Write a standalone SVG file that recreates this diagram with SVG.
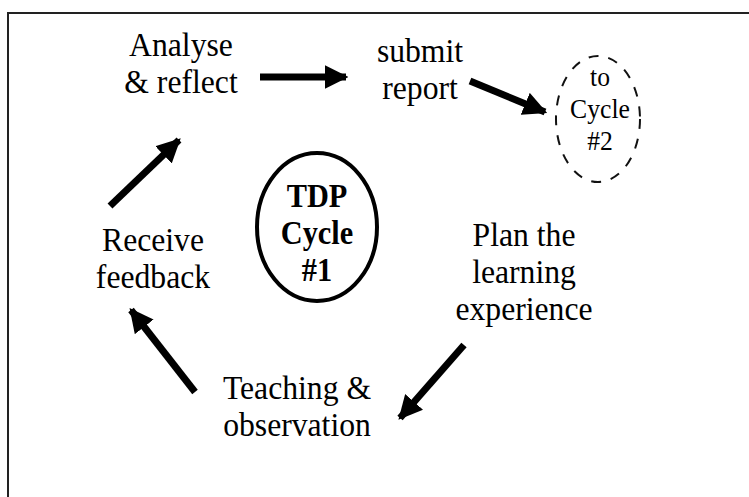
<svg xmlns="http://www.w3.org/2000/svg" width="749" height="497" viewBox="0 0 749 497">
<defs>
<style>
.t{font-family:"Liberation Serif","Times New Roman",serif;font-size:33px;fill:#000;text-anchor:middle}
.b{font-family:"Liberation Serif","Times New Roman",serif;font-size:33px;font-weight:bold;fill:#000;text-anchor:middle}
.s{font-family:"Liberation Serif","Times New Roman",serif;font-size:27px;fill:#000;text-anchor:middle}
.a{stroke:#000;stroke-width:7;fill:none}
</style>
<marker id="ah" viewBox="0 0 10 10" refX="9" refY="5" markerWidth="3.4" markerHeight="3.5" markerUnits="strokeWidth" orient="auto">
<path d="M0,0 L10,5 L0,10 z" fill="#000"/>
</marker>
</defs>
<rect width="749" height="497" fill="#fff"/>
<path d="M8,497 V13 H749" fill="none" stroke="#222" stroke-width="2"/>
<g id="analyse"><text class="t" transform="translate(181,56) scale(0.96,1)">Analyse</text><text class="t" transform="translate(181,93) scale(0.96,1)">&amp; reflect</text></g>
<g id="submit"><text class="t" transform="translate(420,62) scale(0.96,1)">submit</text><text class="t" transform="translate(420,99) scale(0.96,1)">report</text></g>
<g id="cycle2"><ellipse cx="598" cy="119" rx="42" ry="63" fill="none" stroke="#111" stroke-width="2" stroke-dasharray="10,10"/><text class="s" transform="translate(600,86) scale(0.95,1)">to</text><text class="s" transform="translate(600,118) scale(0.95,1)">Cycle</text><text class="s" transform="translate(600,150) scale(0.95,1)">#2</text></g>
<g id="tdp"><ellipse cx="317" cy="227" rx="60" ry="74" fill="none" stroke="#000" stroke-width="4"/><text class="b" transform="translate(317,207) scale(0.92,1)">TDP</text><text class="b" transform="translate(317,244) scale(0.92,1)">Cycle</text><text class="b" transform="translate(317,281) scale(0.92,1)">#1</text></g>
<g id="receive"><text class="t" transform="translate(153,251) scale(0.96,1)">Receive</text><text class="t" transform="translate(153,288) scale(0.96,1)">feedback</text></g>
<g id="plan"><text class="t" transform="translate(524,246) scale(0.96,1)">Plan the</text><text class="t" transform="translate(524,283) scale(0.96,1)">learning</text><text class="t" transform="translate(524,320) scale(0.96,1)">experience</text></g>
<g id="teaching"><text class="t" transform="translate(297,399) scale(0.96,1)">Teaching &amp;</text><text class="t" transform="translate(297,436) scale(0.96,1)">observation</text></g>
<g id="connectors">
<line class="a" x1="260" y1="77" x2="346" y2="77" marker-end="url(#ah)"/>
<line class="a" x1="470" y1="81" x2="545" y2="112" marker-end="url(#ah)"/>
<line class="a" x1="110" y1="206" x2="179" y2="140" marker-end="url(#ah)"/>
<line class="a" x1="464" y1="345" x2="400" y2="418" marker-end="url(#ah)"/>
<line class="a" x1="195" y1="392" x2="131" y2="310" marker-end="url(#ah)"/>
</g>
</svg>
